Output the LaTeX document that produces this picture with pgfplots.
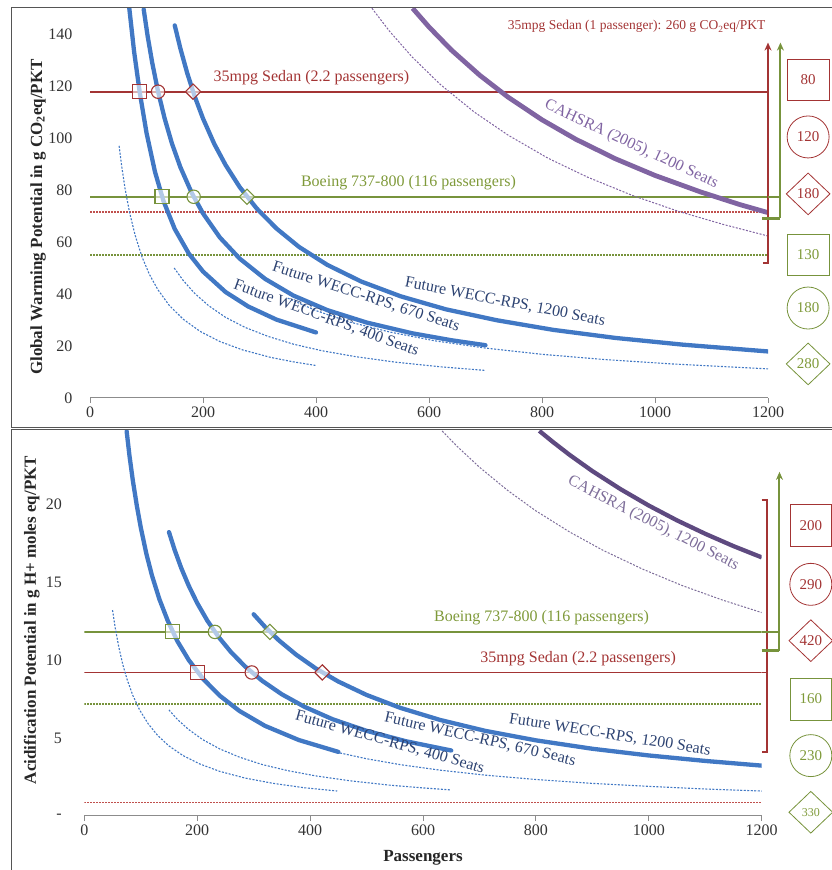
\documentclass[border=0pt]{standalone}
\usepackage{pgfplots}
\pgfplotsset{compat=1.18}
\usepackage{fontspec}
\setmainfont{Liberation Serif}
\usetikzlibrary{arrows.meta,shapes.geometric}

\definecolor{wblue}{HTML}{4178C4}
\definecolor{navytxt}{HTML}{2D4372}
\definecolor{sedanred}{HTML}{A33434}
\definecolor{dotred}{HTML}{C0504D}
\definecolor{bgreen}{HTML}{77933C}
\definecolor{gtxt}{HTML}{7F9A3A}
\definecolor{cpurple}{HTML}{8064A2}
\definecolor{cpurpledark}{HTML}{5E4A80}
\definecolor{axisgray}{HTML}{8C8C8C}
\definecolor{framegray}{HTML}{555555}

\newcommand{\lf}{\fontsize{16}{19}\selectfont}
\newcommand{\nf}{\fontsize{15}{17}\selectfont}
\newcommand{\af}{\bfseries\fontsize{17}{19}\selectfont}

\tikzset{
  thickblue/.style={color=wblue, line width=4.3pt, line cap=round},
  thinblue/.style={color=wblue, line width=1.1pt, dash pattern=on 2pt off 1.5pt},
  hline/.style={line width=1.8pt},
  dotline/.style={line width=1.3pt, dash pattern=on 1.5pt off 1.5pt},
}

\pgfplotsset{
  panel/.style={
    scale only axis,
    xmin=0, xmax=1200, ymin=0,
    axis x line*=bottom, axis y line*=left,
    y axis line style={draw=none},
    x axis line style={draw=axisgray, line width=1pt},
    ytick style={draw=none},
    xtick={0,200,...,1200},
    xtick style={draw=axisgray, line width=1pt},
    tick align=outside, major tick length=5pt,
    clip mode=individual,
    ticklabel style={font=\fontsize{16}{18}\selectfont, text=black!80},
    /pgf/number format/assume math mode=true,
    /pgf/number format/1000 sep={},
  },
  msq/.style={only marks, mark=square*, mark size=7pt,
    mark options={fill=white, fill opacity=0.6, line width=1.1pt}},
  mci/.style={only marks, mark=*, mark size=6.7pt,
    mark options={fill=white, fill opacity=0.6, line width=1.1pt}},
  mdi/.style={only marks, mark=square*, mark size=5.4pt,
    mark options={rotate=45, fill=white, fill opacity=0.6, line width=1.1pt}},
}

\begin{document}
\begin{tikzpicture}

% ---------------- top panel: global warming potential
\begin{axis}[panel,
  at={(90pt,472pt)}, anchor=south west,
  width=678pt, height=390pt, ymax=150,
  ytick={0,20,...,140},
  yticklabel style={xshift=-9pt},
  ylabel={Global Warming Potential in g CO\textsubscript{2}eq/PKT},
  every axis y label/.style={at={(rel axis cs:0,0.464)}, xshift=-52pt, rotate=90, anchor=center, font=\af, text=black!85},
]
\addplot[sedanred, hline] coordinates {(0,117.8) (1200,117.8)};
\addplot[bgreen, hline] coordinates {(0,77.4) (1200,77.4)};
\addplot[dotred, dotline] coordinates {(0,71.5) (1200,71.5)};
\addplot[bgreen, dotline] coordinates {(0,55) (1200,55)};

% dashed scenarios
\addplot[thinblue] coordinates {(51.5,97) (56,89.3) (62,80.6) (70,71.4) (80,62.5) (92,54.3) (105,47.6) (120,41.7) (140,35.7) (165,30.3) (195,25.6) (230,21.7) (270,18.5) (320,15.6) (360,13.9) (400,12.5)};
\addplot[thinblue] coordinates {(149,50) (165,45.2) (185,40.3) (210,35.5) (240,31) (275,27.1) (315,23.7) (360,20.7) (410,18.2) (470,15.9) (540,13.8) (620,12) (700,10.6)};
\addplot[thinblue] coordinates {(350,38.4) (400,33.6) (460,29.2) (530,25.4) (610,22) (700,19.2) (800,16.8) (910,14.8) (1030,13.1) (1200,11.2)};
\addplot[cpurple, line width=1pt, dash pattern=on 2pt off 1.5pt] coordinates {(499,149.9) (530,141.1) (570,131.2) (620,120.6) (680,110) (740,101.1) (810,92.3) (880,85) (960,77.9) (1040,71.9) (1120,66.8) (1200,62.3)};

% WECC-RPS trains
\addplot[thickblue] coordinates {(69.5,150) (78,133.3) (88,117.6) (100,102) (115,87) (130,75.8) (150,65) (175,55.5) (200,48.65) (240,40.75) (280,35.2) (330,30.15) (400,25.2)};
\addplot[thickblue] coordinates {(95,149.5) (102,139.2) (110,129.1) (120,118.3) (132,107.6) (145,97.9) (160,88.75) (180,78.9) (200,71) (230,61.7) (265,53.6) (310,45.8) (360,39.4) (420,33.8) (490,29) (570,24.9) (640,22.2) (700,20.3)};
\addplot[thickblue] coordinates {(150,143.3) (160,134.4) (172,125) (185,116.2) (200,107.5) (220,97.7) (240,89.6) (265,81.1) (295,72.9) (330,65.2) (370,58.1) (420,51.2) (480,44.8) (550,39.1) (630,34.1) (720,29.9) (820,26.2) (930,23.1) (1050,20.5) (1200,17.9)};
\addplot[cpurple, line width=4.8pt] coordinates {(571,149.9) (600,142.7) (640,133.75) (690,124.1) (740,115.7) (800,107) (860,99.5) (930,92) (1000,85.6) (1080,79.3) (1150,74.4) (1200,71.3)};

% break-even markers
\addplot[msq, sedanred] coordinates {(88,117.8)};
\addplot[mci, sedanred] coordinates {(120.5,117.8)};
\addplot[mdi, sedanred] coordinates {(182.5,117.8)};
\addplot[msq, bgreen] coordinates {(127.5,77.4)};
\addplot[mci, bgreen] coordinates {(183.5,77.4)};
\addplot[mdi, bgreen] coordinates {(277.8,77.4)};

% labels
\node[sedanred, font=\lf] at (axis cs:392,123.1) {35mpg Sedan (2.2 passengers)};
\node[gtxt, font=\lf] at (axis cs:563.7,82.7) {Boeing 737-800 (116 passengers)};
\node[cpurple, font=\lf, rotate=-25] at (axis cs:958,97.5) {CAHSRA (2005), 1200 Seats};
\node[navytxt, font=\lf, rotate=-11] at (axis cs:734.5,36.9) {Future WECC-RPS, 1200 Seats};
\node[navytxt, font=\lf, rotate=-18] at (axis cs:488.5,38.8) {Future WECC-RPS, 670 Seats};
\node[navytxt, font=\lf, rotate=-20] at (axis cs:418,30.6) {Future WECC-RPS, 400 Seats};
\node[sedanred, anchor=east, font=\fontsize{13.5}{15}\selectfont] at (axis cs:1201.8,142.8) {35mpg Sedan (1 passenger): 260 g CO\textsubscript{2}eq/PKT};

% range arrows
\draw[sedanred, line width=2pt, -{Stealth[length=8pt,width=7pt]}] (axis cs:1191,52) -- (axis cs:1200,52) -- (axis cs:1200,136.7);
\draw[bgreen, hline] (axis cs:1200,77.4) -- (axis cs:1222,77.4);
\draw[bgreen, line width=3pt] (axis cs:1190,69.2) -- (axis cs:1222,69.2);
\draw[bgreen, line width=2pt, -{Stealth[length=8pt,width=7pt]}] (axis cs:1222,69.2) -- (axis cs:1222,136.7);

% passenger counts
\node[draw=sedanred, text=sedanred, line width=1pt, minimum width=42pt, minimum height=41pt, font=\nf] at (axis cs:1271,122.3) {80};
\node[circle, draw=sedanred, text=sedanred, line width=0.8pt, minimum size=42pt, inner sep=0pt, font=\nf] at (axis cs:1271,100.4) {120};
\node[diamond, draw=sedanred, text=sedanred, line width=0.8pt, minimum width=44pt, minimum height=42pt, inner sep=0pt, font=\nf] at (axis cs:1271,78.5) {180};
\node[draw=bgreen, text=gtxt, line width=1pt, minimum width=42pt, minimum height=41pt, font=\nf] at (axis cs:1271,55) {130};
\node[circle, draw=bgreen, text=gtxt, line width=0.8pt, minimum size=42pt, inner sep=0pt, font=\nf] at (axis cs:1271,34.6) {180};
\node[diamond, draw=bgreen, text=gtxt, line width=0.8pt, minimum width=44pt, minimum height=42pt, inner sep=0pt, font=\nf] at (axis cs:1271,13.1) {280};
\end{axis}

% ---------------- bottom panel: acidification potential
\begin{axis}[panel,
  at={(84.3pt,54pt)}, anchor=south west,
  width=677.4pt, height=385pt, ymax=24.68,
  ytick={0,5,10,15,20}, yticklabels={-,5,10,15,20},
  yticklabel style={xshift=-14pt},
  xlabel={Passengers},
  every axis x label/.style={at={(rel axis cs:0.5,0)}, yshift=-42pt, anchor=center, font=\af, text=black!85},
  ylabel={Acidification Potential in g H+ moles eq/PKT},
  every axis y label/.style={at={(rel axis cs:0,0.509)}, xshift=-52.6pt, rotate=90, anchor=center, font=\af, text=black!85},
]
\addplot[bgreen, hline] coordinates {(0,11.8) (1200,11.8)};
\addplot[sedanred, hline] coordinates {(0,9.2) (1200,9.2)};
\addplot[bgreen, dotline] coordinates {(0,7.18) (1200,7.18)};
\addplot[dotred, dotline] coordinates {(0,0.88) (1200,0.88)};

\addplot[thinblue] coordinates {(50,13.2) (55,12.01) (61,10.85) (68,9.74) (76,8.73) (86,7.73) (98,6.8) (113,5.92) (130,5.16) (150,4.49) (175,3.87) (205,3.33) (240,2.86) (285,2.43) (335,2.09) (390,1.81) (448,1.6)};
\addplot[thinblue] coordinates {(150,6.8) (165,6.19) (185,5.54) (210,4.89) (240,4.3) (275,3.77) (315,3.3) (360,2.91) (410,2.57) (470,2.26) (540,1.98) (600,1.8) (650,1.67)};
\addplot[thinblue] coordinates {(453,4.04) (500,3.67) (560,3.29) (630,2.94) (710,2.62) (800,2.34) (900,2.09) (1000,1.9) (1100,1.73) (1200,1.6)};
\addplot[cpurpledark!80, line width=1pt, dash pattern=on 2pt off 1.5pt] coordinates {(634,24.68) (660,23.71) (700,22.36) (750,20.87) (800,19.56) (860,18.2) (920,17.01) (990,15.81) (1060,14.76) (1130,13.85) (1200,13.04)};

\addplot[thickblue] coordinates {(75,24.67) (80,23.1) (86,21.5) (93,19.9) (100,18.5) (110,16.8) (120,15.4) (133,13.9) (148,12.5) (165,11.2) (185,10) (210,8.81) (240,7.71) (275,6.73) (320,5.78) (380,4.87) (450,4.11)};
\addplot[thickblue] coordinates {(150,18.2) (160,17.06) (172,15.87) (185,14.76) (200,13.65) (218,12.52) (238,11.47) (260,10.5) (285,9.58) (315,8.67) (350,7.8) (390,7) (440,6.2) (500,5.46) (570,4.79) (650,4.2)};
\addplot[thickblue] coordinates {(300,12.93) (320,12.13) (345,11.25) (375,10.35) (410,9.46) (450,8.62) (500,7.76) (560,6.93) (630,6.16) (710,5.46) (800,4.85) (900,4.31) (1000,3.88) (1100,3.53) (1200,3.23)};
\addplot[cpurpledark, line width=4.3pt] coordinates {(806,24.69) (830,23.98) (860,23.14) (900,22.11) (950,20.95) (1000,19.9) (1050,18.95) (1100,18.09) (1150,17.3) (1200,16.58)};

\addplot[msq, bgreen] coordinates {(156.8,11.8)};
\addplot[mci, bgreen] coordinates {(231.4,11.8)};
\addplot[mdi, bgreen] coordinates {(328.8,11.8)};
\addplot[msq, sedanred] coordinates {(201,9.2)};
\addplot[mci, sedanred] coordinates {(296.7,9.2)};
\addplot[mdi, sedanred] coordinates {(421.7,9.2)};

\node[gtxt, font=\lf] at (axis cs:810,12.7) {Boeing 737-800 (116 passengers)};
\node[sedanred, font=\lf] at (axis cs:875,10.06) {35mpg Sedan (2.2 passengers)};
\node[cpurpledark!80, font=\lf, rotate=-27] at (axis cs:1008,18.75) {CAHSRA (2005), 1200 Seats};
\node[navytxt, font=\lf, rotate=-9] at (axis cs:931,5.19) {Future WECC-RPS, 1200 Seats};
\node[navytxt, font=\lf, rotate=-13] at (axis cs:701,4.9) {Future WECC-RPS, 670 Seats};
\node[navytxt, font=\lf, rotate=-15.8] at (axis cs:541,4.72) {Future WECC-RPS, 400 Seats};

\draw[sedanred, line width=2pt] (axis cs:1200,20.26) -- (axis cs:1209,20.26) -- (axis cs:1209,4.12) -- (axis cs:1200,4.12);
\draw[sedanred, hline] (axis cs:1200,9.2) -- (axis cs:1209,9.2);
\draw[bgreen, hline] (axis cs:1200,11.8) -- (axis cs:1231.5,11.8);
\draw[bgreen, line width=3pt] (axis cs:1200,10.58) -- (axis cs:1231.5,10.58);
\draw[bgreen, line width=2pt, -{Stealth[length=8pt,width=7pt]}] (axis cs:1231.5,10.58) -- (axis cs:1231.5,22.06);

\node[draw=sedanred, text=sedanred, line width=1pt, minimum width=41pt, minimum height=42pt, font=\nf] at (axis cs:1287,18.6) {200};
\node[circle, draw=sedanred, text=sedanred, line width=0.8pt, minimum size=42pt, inner sep=0pt, font=\nf] at (axis cs:1287,14.85) {290};
\node[diamond, draw=sedanred, text=sedanred, line width=0.8pt, minimum width=44pt, minimum height=42pt, inner sep=0pt, font=\nf] at (axis cs:1287,11.24) {420};
\node[draw=bgreen, text=gtxt, line width=1pt, minimum width=41pt, minimum height=42pt, font=\nf] at (axis cs:1287,7.5) {160};
\node[circle, draw=bgreen, text=gtxt, line width=0.8pt, minimum size=42pt, inner sep=0pt, font=\nf] at (axis cs:1287,3.87) {230};
\node[diamond, draw=bgreen, text=gtxt, line width=0.8pt, minimum width=44pt, minimum height=42pt, inner sep=0pt, font=\fontsize{12}{14}\selectfont] at (axis cs:1287,0.24) {330};
\end{axis}

% panel frames
\draw[framegray, line width=1pt] (11pt,862pt) rectangle (845pt,442pt);
\draw[framegray, line width=1pt] (11pt,440pt) rectangle (845pt,-10pt);

\pgfresetboundingbox
\path[use as bounding box] (0,0) rectangle (832pt,870pt);
\end{tikzpicture}
\end{document}
